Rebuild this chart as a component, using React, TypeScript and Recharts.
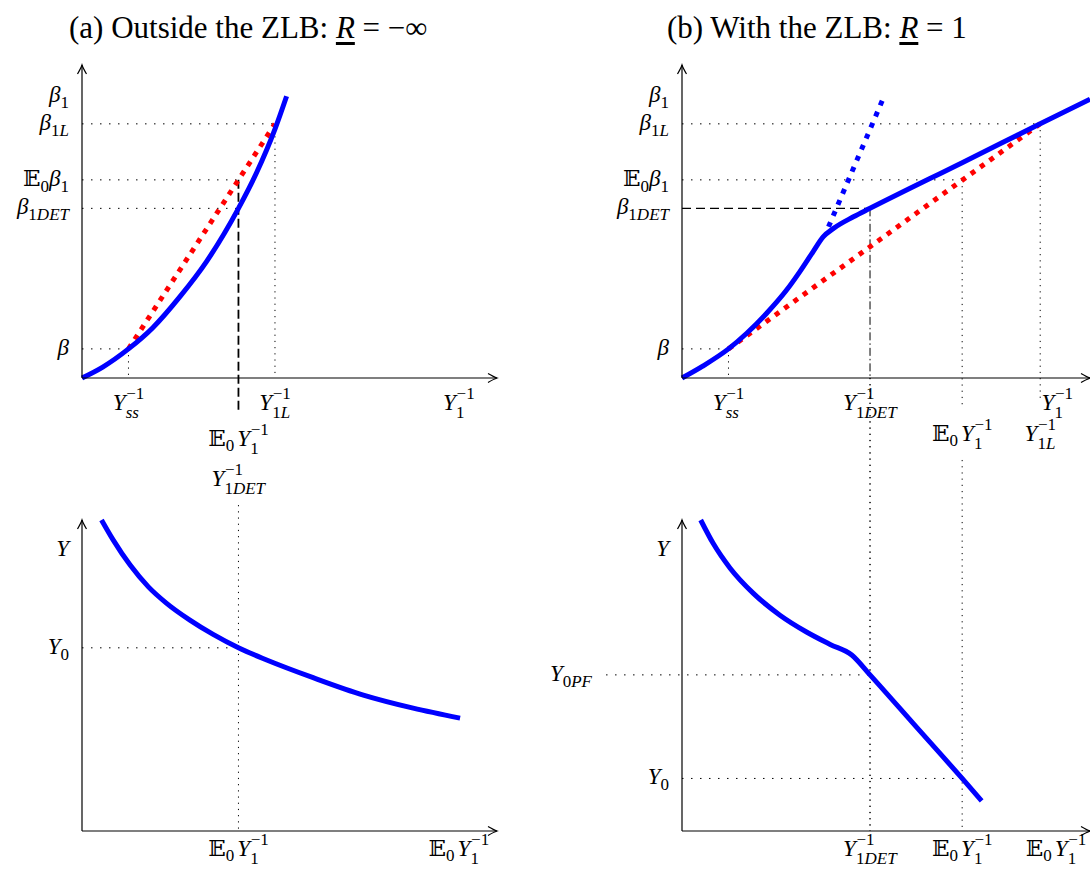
import { LineChart, Line, XAxis, YAxis, ReferenceLine, ReferenceDot } from "recharts"

const W = 1090
const H = 869
const SERIF = "'Liberation Serif', 'DejaVu Serif', serif"
const BLUE = "#0000ff"
const RED = "#ff0000"
const FS = 23
const SS = 17

// values, arbitrary units (each axis runs 0..10 to the arrow)

// top panels: beta_1 against Y_1^{-1}
const betaSS = 0.93
const beta1DET = 5.42
const e0Beta1 = 6.33
const beta1L = 8.12
const beta1 = 9.01
const yssInv = 1.12

// (a) outside the ZLB
const aY1DET = 3.77 // same point as E0 Y1^-1
const aY1L = 4.65
const aY1 = 9.08
const aCurveX = [0, 0.5, 1.12, 1.7, 2.36, 3.0, 3.77, 4.2, 4.65, 4.93]
const aCurveY = [0, 0.35, 0.93, 1.6, 2.6, 3.72, 5.42, 6.54, 7.95, 9.0]
const aChordX = [1.12, 4.65]
const aChordY = [0.93, 8.12]

// (b) with the ZLB
const bY1DET = 4.53
const bE0Y1 = 6.75
const bY1L = 8.63
const bY1 = 9.04
const bCurveX = [0, 0.5, 1.12, 1.56, 2.04, 2.52, 2.84, 3.16, 3.4, 3.65, 4.13, 4.53, 6.75, 8.63, 9.83]
const bCurveY = [0, 0.38, 0.93, 1.43, 2.07, 2.81, 3.4, 4.04, 4.51, 4.78, 5.15, 5.42, 6.88, 8.12, 8.91]
const bNoZlbX = [3.53, 4.85]
const bNoZlbY = [4.83, 8.94]
const bChordX = [1.12, 8.63]
const bChordY = [0.93, 8.12]

// bottom panels: Y_0 against E_0 Y_1^{-1}
const yTop = 9.04
const aY0 = 5.89
const aE0Y1Far = 9.08
const aYX = [0.47, 0.75, 1.16, 1.6, 2.04, 2.6, 3.16, 3.77, 4.45, 5.57, 6.78, 7.98, 9.11]
const aYY = [10, 9.36, 8.55, 7.85, 7.32, 6.78, 6.32, 5.89, 5.5, 4.93, 4.37, 3.95, 3.63]

const bY0PF = 5.02
const bY0 = 1.69
const bE0Y1Far = 9.01
const bYX = [0.45, 0.75, 1.16, 1.72, 2.36, 3.0, 3.57, 4.09, 4.53, 5.57, 6.75, 7.22]
const bYY = [10, 9.25, 8.45, 7.64, 6.94, 6.4, 6.0, 5.66, 5.02, 3.46, 1.69, 0.97]

// tick labels
const aTopXTicks = [yssInv, aY1DET, aY1L, aY1]
const aTopXNames = ["Yss", "E0Y1+Y1DET", "Y1L", "Y1"]
const topYTicks = [betaSS, beta1DET, e0Beta1, beta1L, beta1]
const topYNames = ["beta", "beta1DET", "E0beta1", "beta1L", "beta1"]
const bTopXTicks = [yssInv, bY1DET, bE0Y1, bY1L, bY1]
const bTopXNames = ["Yss", "Y1DET", "E0Y1", "Y1L", "Y1"]
const aBotXTicks = [aY1DET, aE0Y1Far]
const aBotXNames = ["E0Y1", "E0Y1"]
const aBotYTicks = [aY0, yTop]
const aBotYNames = ["Y0", "Y"]
const bBotXTicks = [bY1DET, bE0Y1, bE0Y1Far]
const bBotXNames = ["Y1DET", "E0Y1", "E0Y1"]
const bBotYTicks = [bY0, bY0PF, yTop]
const bBotYNames = ["Y0", "Y0PF", "Y"]

const pts = (xs: number[], ys: number[]) => xs.map((x, i) => ({ x, y: ys[i] }))

const H_DOTS = "1.5 7.5"
const V_DOTS = "1.2 5"

const hSeg = (y: number, x1: number, x2: number, dash = H_DOTS, w = 1) => (
  <ReferenceLine
    segment={[{ x: x1, y }, { x: x2, y }]}
    stroke="#000"
    strokeWidth={w}
    strokeDasharray={dash}
    ifOverflow="visible"
  />
)
const vSeg = (x: number, y1: number, y2: number, dash = V_DOTS, w = 1) => (
  <ReferenceLine
    segment={[{ x, y: y1 }, { x, y: y2 }]}
    stroke="#000"
    strokeWidth={w}
    strokeDasharray={dash}
    ifOverflow="visible"
  />
)

const arrowPath = "M -9 -4.5 Q -3 -1 0 0 Q -3 1 -9 4.5"
const arrowRight = (p: any) => (
  <path d={arrowPath} transform={`translate(${p.cx},${p.cy})`} fill="none" stroke="#000" strokeWidth={1.2} />
)
const arrowUp = (p: any) => (
  <path d={arrowPath} transform={`translate(${p.cx},${p.cy}) rotate(-90)`} fill="none" stroke="#000" strokeWidth={1.2} />
)

const charW: Record<string, number> = { "0": 0.5, "1": 0.5, "−": 0.56, s: 0.39, D: 0.72, E: 0.61, T: 0.56, L: 0.56, P: 0.61, F: 0.61 }
const sw = (s: string) => [...s].reduce((a, c) => a + (charW[c] ?? 0.55) * SS, 0)

function Script({ s }: { s: string }) {
  return (
    <>
      {[...s].map((c, i) => (
        <tspan key={i} fontStyle={/[0-9]/.test(c) ? "normal" : "italic"}>
          {c}
        </tspan>
      ))}
    </>
  )
}

// Y^{-1}_{sub}, optionally preceded by E_0, centred on x, baseline y; one text element
function YInv({ x, y, sub, pre }: { x: number; y: number; sub: string; pre?: boolean }) {
  const yw = 13.5
  const preW = pre ? 29 : 0
  const total = preW + yw + Math.max(sw("−1"), sw(sub))
  const x0 = x - total / 2
  const xs = x0 + preW + yw
  return (
    <text x={x0} y={y} fontFamily={SERIF} fontSize={FS} fill="#000">
      {pre && <tspan>𝔼</tspan>}
      {pre && (
        <tspan fontSize={SS} dy={5}>
          0
        </tspan>
      )}
      <tspan x={x0 + preW} y={y} fontStyle="italic">
        Y
      </tspan>
      <tspan x={xs} dy={-11} fontSize={SS}>
        −1
      </tspan>
      <tspan x={xs - 0.5} dy={19} fontSize={SS}>
        <Script s={sub} />
      </tspan>
    </text>
  )
}

function XLabel({ name, x, y }: { name: string; x: number; y: number }) {
  if (name === "Yss") return <YInv x={x} y={y} sub="ss" />
  if (name === "Y1L") return <YInv x={x} y={y} sub="1L" />
  if (name === "Y1") return <YInv x={x} y={y} sub="1" />
  if (name === "Y1DET") return <YInv x={x} y={y} sub="1DET" />
  if (name === "E0Y1") return <YInv x={x} y={y} sub="1" pre />
  return null
}

const sub = (s: string) => (
  <tspan fontSize={SS} dy={6}>
    <Script s={s} />
  </tspan>
)

function YLabel({ name, x, y }: { name: string; x: number; y: number }) {
  const c = { x, y: y + 6, textAnchor: "end" as const, fontFamily: SERIF, fontSize: FS, fill: "#000" }
  const beta = <tspan fontStyle="italic">β</tspan>
  const Y = <tspan fontStyle="italic">Y</tspan>
  switch (name) {
    case "beta":
      return <text {...c}>{beta}</text>
    case "beta1":
      return <text {...c}>{beta}{sub("1")}</text>
    case "beta1L":
      return <text {...c}>{beta}{sub("1L")}</text>
    case "beta1DET":
      return <text {...c}>{beta}{sub("1DET")}</text>
    case "E0beta1":
      return (
        <text {...c}>
          <tspan>𝔼</tspan>
          {sub("0")}
          <tspan dy={-6} fontStyle="italic">
            β
          </tspan>
          {sub("1")}
        </text>
      )
    case "Y":
      return <text {...c}>{Y}</text>
    case "Y0":
      return <text {...c}>{Y}{sub("0")}</text>
    case "Y0PF":
      return <text {...c}>{Y}{sub("0PF")}</text>
  }
  return null
}

const xTick = (ticks: number[], names: string[], rows: number[]) => (p: any) => {
  const i = ticks.indexOf(p.payload.value)
  const name = names[i]
  if (name === "E0Y1+Y1DET") {
    return (
      <g>
        <XLabel name="E0Y1" x={p.x} y={p.y + 68} />
        <XLabel name="Y1DET" x={p.x} y={p.y + 108} />
      </g>
    )
  }
  return <XLabel name={name} x={p.x} y={p.y + [32, 63, 25][rows[i] ?? 0]} />
}

const yTick = (ticks: number[], names: string[], gaps: number[]) => (p: any) => {
  const i = ticks.indexOf(p.payload.value)
  return <YLabel name={names[i]} x={p.x - (gaps[i] ?? 13)} y={p.y} />
}

const axisStyle = { stroke: "#000", strokeWidth: 1.2 }
const layer: React.CSSProperties = { position: "absolute", left: 0, top: 0 }
const titleStyle = (left: number): React.CSSProperties => ({
  position: "absolute",
  left,
  top: 11,
  fontFamily: SERIF,
  fontSize: 31,
  lineHeight: "34px",
  whiteSpace: "nowrap",
  color: "#000",
})

function R() {
  return <span style={{ fontStyle: "italic", textDecoration: "underline", textUnderlineOffset: 4 }}>R</span>
}

const LEFT_XMAX = 10
const RIGHT_XMAX = 9.83

const lineProps = { dataKey: "y", dot: false, activeDot: false, isAnimationActive: false } as const

export default function App() {
  const xAxis = (xMax: number, ticks: number[], names: string[], rows: number[]) => (
    <XAxis
      type="number"
      dataKey="x"
      domain={[0, xMax]}
      ticks={ticks}
      interval={0}
      height={1}
      tickSize={0}
      tickMargin={0}
      tickLine={false}
      axisLine={axisStyle}
      tick={xTick(ticks, names, rows)}
    />
  )
  const yAxis = (ticks: number[], names: string[], gaps: number[]) => (
    <YAxis
      type="number"
      domain={[0, 10]}
      ticks={ticks}
      interval={0}
      width={1}
      tickSize={0}
      tickMargin={0}
      tickLine={false}
      axisLine={axisStyle}
      tick={yTick(ticks, names, gaps)}
    />
  )
  return (
    <div style={{ position: "absolute", left: 0, top: 0, width: W, height: H, background: "#fff", overflow: "hidden" }}>
      <div style={titleStyle(69)}>
        (a) Outside the ZLB: <R /> = −∞
      </div>
      <div style={titleStyle(667)}>
        (b) With the ZLB: <R /> = 1
      </div>

      {/* (a) top */}
      <div style={layer}>
        <LineChart width={W} height={H} margin={{ top: 65, left: 81, right: 593, bottom: 490 }}>
          {xAxis(LEFT_XMAX, aTopXTicks, aTopXNames, [0, 0, 0, 0])}
          {yAxis(topYTicks, topYNames, [])}
          {hSeg(betaSS, 0, yssInv)}
          {hSeg(beta1DET, 0, aY1DET)}
          {hSeg(e0Beta1, 0, aY1DET)}
          {hSeg(beta1L, 0, aY1L)}
          {vSeg(yssInv, betaSS, 0)}
          {vSeg(aY1L, beta1L, 0)}
          {vSeg(aY1DET, e0Beta1, -1.09, "9 4", 1.8)}
          <Line {...lineProps} data={pts(aChordX, aChordY)} type="linear" stroke={RED} strokeWidth={5} strokeDasharray="5 6.5" />
          <Line {...lineProps} data={pts(aCurveX, aCurveY)} type="monotone" stroke={BLUE} strokeWidth={5} />
          <ReferenceDot x={LEFT_XMAX} y={0} shape={arrowRight} ifOverflow="visible" />
          <ReferenceDot x={0} y={10} shape={arrowUp} ifOverflow="visible" />
        </LineChart>
      </div>

      {/* (b) top */}
      <div style={layer}>
        <LineChart width={W} height={H} margin={{ top: 65, left: 681, right: 0, bottom: 490 }}>
          {xAxis(RIGHT_XMAX, bTopXTicks, bTopXNames, [0, 0, 1, 1, 0])}
          {yAxis(topYTicks, topYNames, [])}
          {hSeg(betaSS, 0, yssInv)}
          {hSeg(e0Beta1, 0, bE0Y1)}
          {hSeg(beta1L, 0, bY1L)}
          {hSeg(beta1DET, 0, bY1DET, "9 5", 1.1)}
          {vSeg(yssInv, betaSS, 0)}
          {vSeg(bY1DET, beta1DET, 0, "8 3 1.5 3", 1)}
          {vSeg(bY1DET, 0, -14.47)}
          {vSeg(bE0Y1, e0Beta1, -0.93)}
          {vSeg(bY1L, beta1L, -0.65)}
          <Line {...lineProps} data={pts(bChordX, bChordY)} type="linear" stroke={RED} strokeWidth={5} strokeDasharray="5 6.5" />
          <Line {...lineProps} data={pts(bNoZlbX, bNoZlbY)} type="linear" stroke={BLUE} strokeWidth={5} strokeDasharray="5 7" />
          <Line {...lineProps} data={pts(bCurveX, bCurveY)} type="monotone" stroke={BLUE} strokeWidth={5} />
          <ReferenceDot x={RIGHT_XMAX} y={0} shape={arrowRight} ifOverflow="visible" />
          <ReferenceDot x={0} y={10} shape={arrowUp} ifOverflow="visible" />
        </LineChart>
      </div>

      {/* (a) bottom */}
      <div style={layer}>
        <LineChart width={W} height={H} margin={{ top: 520, left: 81, right: 593, bottom: 37 }}>
          {xAxis(LEFT_XMAX, aBotXTicks, aBotXNames, [2, 2])}
          {yAxis(aBotYTicks, aBotYNames, [])}
          {hSeg(aY0, 0, aY1DET)}
          {vSeg(aY1DET, 10.48, 0)}
          <Line {...lineProps} data={pts(aYX, aYY)} type="monotone" stroke={BLUE} strokeWidth={5} />
          <ReferenceDot x={LEFT_XMAX} y={0} shape={arrowRight} ifOverflow="visible" />
          <ReferenceDot x={0} y={10} shape={arrowUp} ifOverflow="visible" />
        </LineChart>
      </div>

      {/* (b) bottom */}
      <div style={layer}>
        <LineChart width={W} height={H} margin={{ top: 520, left: 681, right: 0, bottom: 37 }}>
          {xAxis(RIGHT_XMAX, bBotXTicks, bBotXNames, [2, 2, 2])}
          {yAxis(bBotYTicks, bBotYNames, [13, 90, 13])}
          {hSeg(bY0, 0, bE0Y1)}
          {hSeg(bY0PF, -1.83, bY1DET)}
          {vSeg(bY1DET, 14.57, 0)}
          {vSeg(bE0Y1, 11.93, 0)}
          <Line {...lineProps} data={pts(bYX, bYY)} type="monotone" stroke={BLUE} strokeWidth={5} />
          <ReferenceDot x={RIGHT_XMAX} y={0} shape={arrowRight} ifOverflow="visible" />
          <ReferenceDot x={0} y={10} shape={arrowUp} ifOverflow="visible" />
        </LineChart>
      </div>
    </div>
  )
}
